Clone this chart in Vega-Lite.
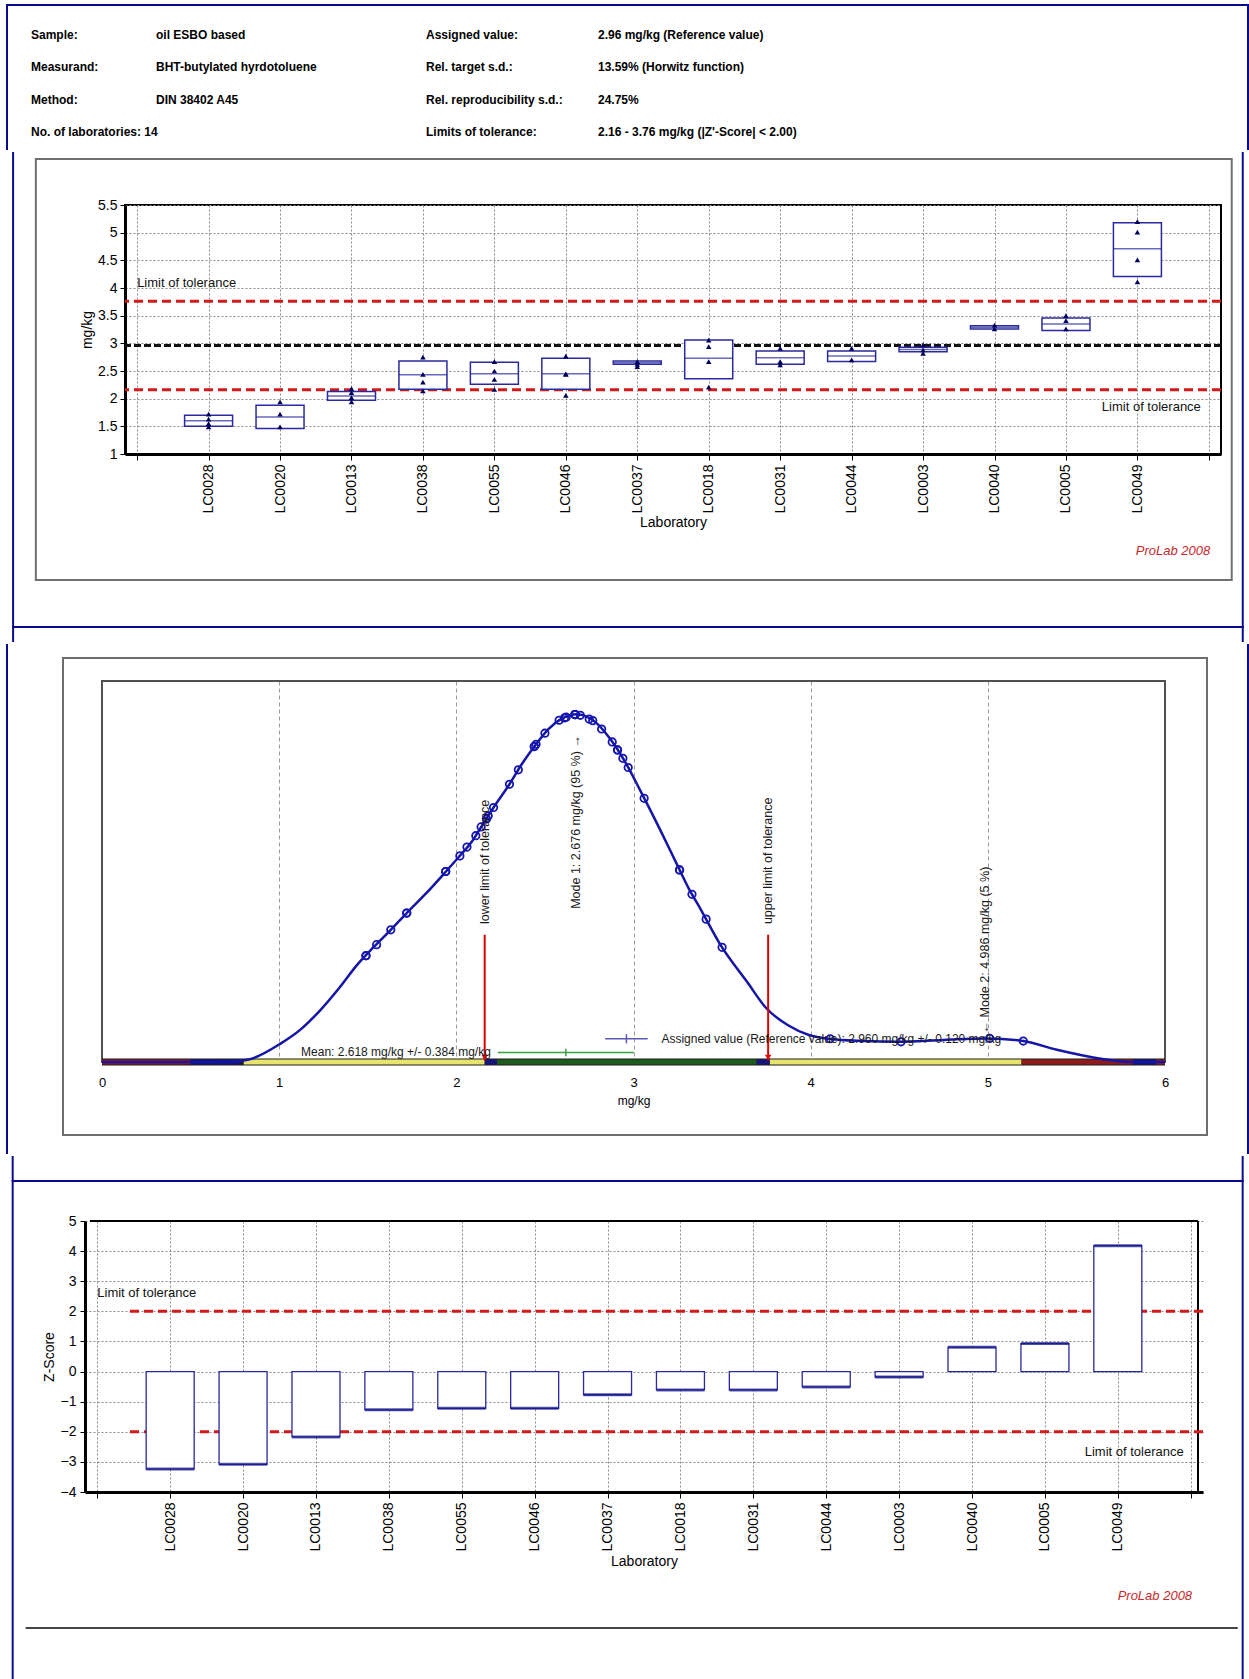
{
  "$schema": "https://vega.github.io/schema/vega-lite/v6.json",
  "padding": 0,
  "background": "white",
  "columns": 1,
  "align": "none",
  "bounds": "full",
  "spacing": 0,
  "datasets": {
    "header": [
      {"row": 0, "col": 0, "text": "Sample:"},
      {"row": 0, "col": 1, "text": "oil ESBO based"},
      {"row": 0, "col": 2, "text": "Assigned value:"},
      {"row": 0, "col": 3, "text": "2.96 mg/kg (Reference value)"},
      {"row": 1, "col": 0, "text": "Measurand:"},
      {"row": 1, "col": 1, "text": "BHT-butylated hyrdotoluene"},
      {"row": 1, "col": 2, "text": "Rel. target s.d.:"},
      {"row": 1, "col": 3, "text": "13.59% (Horwitz function)"},
      {"row": 2, "col": 0, "text": "Method:"},
      {"row": 2, "col": 1, "text": "DIN 38402 A45"},
      {"row": 2, "col": 2, "text": "Rel. reproducibility s.d.:"},
      {"row": 2, "col": 3, "text": "24.75%"},
      {"row": 3, "col": 0, "text": "No. of laboratories: 14"},
      {"row": 3, "col": 2, "text": "Limits of tolerance:"},
      {"row": 3, "col": 3, "text": "2.16 - 3.76 mg/kg   (|Z'-Score| < 2.00)"}
    ],
    "labs": [
      {"lab": "LC0028", "rank": 1, "lo": 1.50, "med": 1.60, "hi": 1.70, "z": -3.24},
      {"lab": "LC0020", "rank": 2, "lo": 1.46, "med": 1.67, "hi": 1.88, "z": -3.08},
      {"lab": "LC0013", "rank": 3, "lo": 1.97, "med": 2.05, "hi": 2.13, "z": -2.17},
      {"lab": "LC0038", "rank": 4, "lo": 2.17, "med": 2.43, "hi": 2.68, "z": -1.27},
      {"lab": "LC0055", "rank": 5, "lo": 2.26, "med": 2.45, "hi": 2.66, "z": -1.22},
      {"lab": "LC0046", "rank": 6, "lo": 2.17, "med": 2.45, "hi": 2.73, "z": -1.22},
      {"lab": "LC0037", "rank": 7, "lo": 2.62, "med": 2.65, "hi": 2.68, "z": -0.77},
      {"lab": "LC0018", "rank": 8, "lo": 2.36, "med": 2.73, "hi": 3.06, "z": -0.61},
      {"lab": "LC0031", "rank": 9, "lo": 2.62, "med": 2.74, "hi": 2.86, "z": -0.61},
      {"lab": "LC0044", "rank": 10, "lo": 2.67, "med": 2.77, "hi": 2.86, "z": -0.51},
      {"lab": "LC0003", "rank": 11, "lo": 2.85, "med": 2.89, "hi": 2.93, "z": -0.18},
      {"lab": "LC0040", "rank": 12, "lo": 3.26, "med": 3.29, "hi": 3.32, "z": 0.81},
      {"lab": "LC0005", "rank": 13, "lo": 3.23, "med": 3.35, "hi": 3.46, "z": 0.93},
      {"lab": "LC0049", "rank": 14, "lo": 4.21, "med": 4.71, "hi": 5.18, "z": 4.18}
    ],
    "results": [
      {"lab": "LC0028", "rank": 1, "value": 1.72, "density": 0.391},
      {"lab": "LC0028", "rank": 1, "value": 1.63, "density": 0.347},
      {"lab": "LC0028", "rank": 1, "value": 1.55, "density": 0.308},
      {"lab": "LC0028", "rank": 1, "value": 1.49, "density": 0.279},
      {"lab": "LC0020", "rank": 2, "value": 1.94, "density": 0.500},
      {"lab": "LC0020", "rank": 2, "value": 1.72, "density": 0.391},
      {"lab": "LC0020", "rank": 2, "value": 1.49, "density": 0.279},
      {"lab": "LC0013", "rank": 3, "value": 2.18, "density": 0.646},
      {"lab": "LC0013", "rank": 3, "value": 2.11, "density": 0.594},
      {"lab": "LC0013", "rank": 3, "value": 2.02, "density": 0.541},
      {"lab": "LC0013", "rank": 3, "value": 1.94, "density": 0.500},
      {"lab": "LC0038", "rank": 4, "value": 2.75, "density": 0.900},
      {"lab": "LC0038", "rank": 4, "value": 2.44, "density": 0.828},
      {"lab": "LC0038", "rank": 4, "value": 2.30, "density": 0.729},
      {"lab": "LC0038", "rank": 4, "value": 2.14, "density": 0.617},
      {"lab": "LC0055", "rank": 5, "value": 2.67, "density": 0.912},
      {"lab": "LC0055", "rank": 5, "value": 2.50, "density": 0.863},
      {"lab": "LC0055", "rank": 5, "value": 2.35, "density": 0.767},
      {"lab": "LC0055", "rank": 5, "value": 2.17, "density": 0.638},
      {"lab": "LC0046", "rank": 6, "value": 2.77, "density": 0.896},
      {"lab": "LC0046", "rank": 6, "value": 2.45, "density": 0.834},
      {"lab": "LC0046", "rank": 6, "value": 2.44, "density": 0.828},
      {"lab": "LC0046", "rank": 6, "value": 2.06, "density": 0.564},
      {"lab": "LC0037", "rank": 7, "value": 2.67, "density": 0.912},
      {"lab": "LC0037", "rank": 7, "value": 2.62, "density": 0.905},
      {"lab": "LC0037", "rank": 7, "value": 2.58, "density": 0.897},
      {"lab": "LC0018", "rank": 8, "value": 3.06, "density": 0.692},
      {"lab": "LC0018", "rank": 8, "value": 2.94, "density": 0.797},
      {"lab": "LC0018", "rank": 8, "value": 2.67, "density": 0.912},
      {"lab": "LC0018", "rank": 8, "value": 2.21, "density": 0.668},
      {"lab": "LC0031", "rank": 9, "value": 2.91, "density": 0.819},
      {"lab": "LC0031", "rank": 9, "value": 2.67, "density": 0.912},
      {"lab": "LC0031", "rank": 9, "value": 2.61, "density": 0.903},
      {"lab": "LC0044", "rank": 10, "value": 2.91, "density": 0.819},
      {"lab": "LC0044", "rank": 10, "value": 2.70, "density": 0.910},
      {"lab": "LC0003", "rank": 11, "value": 2.97, "density": 0.773},
      {"lab": "LC0003", "rank": 11, "value": 2.88, "density": 0.840},
      {"lab": "LC0003", "rank": 11, "value": 2.82, "density": 0.874},
      {"lab": "LC0040", "rank": 12, "value": 3.33, "density": 0.440},
      {"lab": "LC0040", "rank": 12, "value": 3.26, "density": 0.504},
      {"lab": "LC0005", "rank": 13, "value": 3.50, "density": 0.301},
      {"lab": "LC0005", "rank": 13, "value": 3.41, "density": 0.375},
      {"lab": "LC0005", "rank": 13, "value": 3.26, "density": 0.504},
      {"lab": "LC0049", "rank": 14, "value": 5.20, "density": 0.055},
      {"lab": "LC0049", "rank": 14, "value": 5.01, "density": 0.062},
      {"lab": "LC0049", "rank": 14, "value": 4.51, "density": 0.053},
      {"lab": "LC0049", "rank": 14, "value": 4.11, "density": 0.061}
    ],
    "reference": [
      {"assigned": 2.96, "assigned_lo": 2.84, "assigned_hi": 3.08, "lower": 2.16, "upper": 3.76, "mean": 2.618, "mean_lo": 2.234, "mean_hi": 3.002}
    ],
    "zlimits": [{"z_upper": 2, "z_lower": -2}],
    "modes": [
      {"mode1": 2.676, "mode1_label": "Mode 1: 2.676 mg/kg (95 %) \u2192", "mode2": 4.986, "mode2_label": "\u2190 Mode 2: 4.986 mg/kg (5 %)"}
    ],
    "curve": [
      {"value": 0.0, "density": 0.0},
      {"value": 0.5, "density": 0.0},
      {"value": 0.73, "density": 0.001},
      {"value": 0.84, "density": 0.008},
      {"value": 1.01, "density": 0.049},
      {"value": 1.12, "density": 0.085},
      {"value": 1.23, "density": 0.135},
      {"value": 1.34, "density": 0.195},
      {"value": 1.44, "density": 0.255},
      {"value": 1.53, "density": 0.300},
      {"value": 1.63, "density": 0.347},
      {"value": 1.72, "density": 0.391},
      {"value": 1.83, "density": 0.443},
      {"value": 1.93, "density": 0.494},
      {"value": 2.01, "density": 0.536},
      {"value": 2.09, "density": 0.580},
      {"value": 2.15, "density": 0.624},
      {"value": 2.21, "density": 0.668},
      {"value": 2.30, "density": 0.729},
      {"value": 2.37, "density": 0.782},
      {"value": 2.45, "density": 0.834},
      {"value": 2.52, "density": 0.874},
      {"value": 2.59, "density": 0.900},
      {"value": 2.68, "density": 0.913},
      {"value": 2.78, "density": 0.894},
      {"value": 2.87, "density": 0.847},
      {"value": 2.95, "density": 0.790},
      {"value": 3.04, "density": 0.711},
      {"value": 3.15, "density": 0.610},
      {"value": 3.25, "density": 0.514},
      {"value": 3.31, "density": 0.457},
      {"value": 3.38, "density": 0.400},
      {"value": 3.49, "density": 0.308},
      {"value": 3.64, "density": 0.211},
      {"value": 3.75, "density": 0.141},
      {"value": 3.87, "density": 0.097},
      {"value": 3.99, "density": 0.071},
      {"value": 4.10, "density": 0.061},
      {"value": 4.30, "density": 0.055},
      {"value": 4.49, "density": 0.053},
      {"value": 4.75, "density": 0.058},
      {"value": 4.99, "density": 0.062},
      {"value": 5.20, "density": 0.055},
      {"value": 5.39, "density": 0.032},
      {"value": 5.62, "density": 0.010},
      {"value": 5.81, "density": 0.0},
      {"value": 6.0, "density": 0.0}
    ],
    "bands": [
      {"from": 0.0, "to": 0.5, "zone": "unsatisfactory"},
      {"from": 0.5, "to": 0.78, "zone": "edge"},
      {"from": 0.8, "to": 2.16, "zone": "questionable"},
      {"from": 2.16, "to": 2.23, "zone": "edge"},
      {"from": 2.23, "to": 3.695, "zone": "satisfactory"},
      {"from": 3.695, "to": 3.77, "zone": "edge"},
      {"from": 3.77, "to": 5.19, "zone": "questionable"},
      {"from": 5.19, "to": 5.82, "zone": "unsatisfactory"},
      {"from": 5.82, "to": 5.95, "zone": "edge"},
      {"from": 5.95, "to": 6.0, "zone": "unsatisfactory"}
    ]
  },
  "concat": [
    {
      "width": 1000,
      "height": 150,
      "layer": [
        {
          "data": {"name": "reference"},
          "mark": {"type": "rect", "color": "white", "clip": false},
          "encoding": {
            "x": {"datum": -0.24, "type": "quantitative", "scale": {"domain": [0, 1, 2, 3], "range": [-94, 31, 301, 473]}, "axis": null},
            "x2": {"datum": 6.7907},
            "y": {"datum": -1.0615, "type": "quantitative", "scale": {"domain": [0, 3], "range": [34.5, 132]}, "axis": null},
            "y2": {"datum": 3.5538}
          }
        },
        {
          "data": {"name": "header"},
          "mark": {"type": "text", "align": "left", "baseline": "middle", "fontWeight": "bold", "fontSize": 12, "font": "Liberation Sans", "color": "#000"},
          "encoding": {
            "x": {"field": "col", "type": "quantitative", "axis": null},
            "y": {"field": "row", "type": "quantitative", "axis": null},
            "text": {"field": "text"}
          }
        },
        {
          "data": {"name": "reference"},
          "mark": {"type": "rect", "color": "#0a0a8c", "clip": false},
          "encoding": {
            "x": {"datum": -0.2, "type": "quantitative", "axis": null},
            "x2": {"datum": 6.7849},
            "y": {"datum": -0.9385, "type": "quantitative", "axis": null},
            "y2": {"datum": -0.8769}
          }
        },
        {
          "data": {"name": "reference"},
          "mark": {"type": "rect", "color": "#0a0a8c", "clip": false},
          "encoding": {
            "x": {"datum": -0.2, "type": "quantitative", "axis": null},
            "x2": {"datum": -0.184},
            "y": {"datum": -0.9385, "type": "quantitative", "axis": null},
            "y2": {"datum": 3.5538}
          }
        },
        {
          "data": {"name": "reference"},
          "mark": {"type": "rect", "color": "#0a0a8c", "clip": false},
          "encoding": {
            "x": {"datum": 6.7733, "type": "quantitative", "axis": null},
            "x2": {"datum": 6.7849},
            "y": {"datum": -0.9385, "type": "quantitative", "axis": null},
            "y2": {"datum": 3.5538}
          }
        }
      ]
    },
    {
      "width": 1096,
      "height": 249,
      "view": {"stroke": "#000", "strokeWidth": 2},
      "layer": [
        {
          "data": {"name": "reference"},
          "mark": {"type": "rect", "fill": "#fff", "fillOpacity": 0, "strokeOpacity": 0, "clip": false},
          "encoding": {
            "x": {
              "datum": -1.82, "type": "quantitative",
              "scale": {"domain": [-0.1, 15.1], "nice": false, "zero": false},
              "axis": {
                "values": [0, 1, 2, 3, 4, 5, 6, 7, 8, 9, 10, 11, 12, 13, 14, 15],
                "labelExpr": "['', 'LC0028', 'LC0020', 'LC0013', 'LC0038', 'LC0055', 'LC0046', 'LC0037', 'LC0018', 'LC0031', 'LC0044', 'LC0003', 'LC0040', 'LC0005', 'LC0049', ''][datum.value]",
                "labelAngle": -90, "labelFontSize": 14, "labelPadding": 4, "labelOverlap": false, "labelFlush": false,
                "tickSize": 6, "tickColor": "#000", "domainColor": "#000", "domainWidth": 3,
                "grid": true, "gridColor": "#8a8a8a", "gridDash": [2, 2],
                "title": "Laboratory", "titleFontSize": 14, "titlePadding": 2
              }
            },
            "x2": {"datum": 15.503},
            "y": {
              "datum": 6.458, "type": "quantitative",
              "scale": {"domain": [1, 5.5], "nice": false, "zero": false},
              "axis": {
                "values": [1, 1.5, 2, 2.5, 3, 3.5, 4, 4.5, 5, 5.5], "format": "~g", "tickCount": 10,
                "labelFontSize": 14, "labelPadding": 3, "labelOverlap": false, "tickSize": 5, "tickColor": "#000",
                "domainColor": "#000", "domainWidth": 3,
                "grid": true, "gridColor": "#8a8a8a", "gridDash": [2, 2],
                "title": "mg/kg", "titleFontSize": 14, "titlePadding": 3
              }
            },
            "y2": {"datum": -2.398}
          }
        },
        {
          "data": {"name": "reference"},
          "mark": {"type": "rect", "color": "#0a0a8c", "clip": false},
          "encoding": {
            "x": {"datum": -1.7502, "type": "quantitative"},
            "x2": {"datum": -1.7225},
            "y": {"datum": 6.458, "type": "quantitative"},
            "y2": {"datum": -2.398}
          }
        },
        {
          "data": {"name": "reference"},
          "mark": {"type": "rect", "color": "#0a0a8c", "clip": false},
          "encoding": {
            "x": {"datum": 15.4608, "type": "quantitative"},
            "x2": {"datum": 15.4885},
            "y": {"datum": 6.458, "type": "quantitative"},
            "y2": {"datum": -2.398}
          }
        },
        {
          "data": {"name": "reference"},
          "mark": {"type": "rect", "color": "#0a0a8c", "clip": false},
          "encoding": {
            "x": {"datum": -1.7502, "type": "quantitative"},
            "x2": {"datum": 15.4885},
            "y": {"datum": -2.1085, "type": "quantitative"},
            "y2": {"datum": -2.1446}
          }
        },
        {
          "data": {"name": "reference"},
          "mark": {"type": "rect", "filled": false, "color": "#707070", "strokeWidth": 2, "clip": false},
          "encoding": {
            "x": {"datum": -1.418, "type": "quantitative"},
            "x2": {"datum": 15.32},
            "y": {"datum": 6.331, "type": "quantitative"},
            "y2": {"datum": -1.277}
          }
        },
        {
          "data": {"name": "reference"},
          "mark": {"type": "rule", "color": "#d21a1a", "strokeWidth": 3, "strokeDash": [9, 5]},
          "encoding": {"y": {"field": "upper", "type": "quantitative"}}
        },
        {
          "data": {"name": "reference"},
          "mark": {"type": "rule", "color": "#d21a1a", "strokeWidth": 3, "strokeDash": [9, 5]},
          "encoding": {"y": {"field": "lower", "type": "quantitative"}}
        },
        {
          "data": {"name": "reference"},
          "mark": {"type": "rule", "color": "#111", "strokeWidth": 3, "strokeDash": [7, 3]},
          "encoding": {"y": {"field": "assigned", "type": "quantitative"}}
        },
        {
          "data": {"name": "labs"},
          "mark": {"type": "bar", "size": 48, "fill": "white", "stroke": "#2a2aa0", "strokeWidth": 1.5},
          "encoding": {
            "x": {"field": "rank", "type": "quantitative"},
            "y": {"field": "lo", "type": "quantitative"},
            "y2": {"field": "hi"}
          }
        },
        {
          "data": {"name": "labs"},
          "mark": {"type": "tick", "orient": "horizontal", "size": 48, "thickness": 1.5, "color": "#2a2aa0"},
          "encoding": {
            "x": {"field": "rank", "type": "quantitative"},
            "y": {"field": "med", "type": "quantitative"}
          }
        },
        {
          "data": {"name": "results"},
          "mark": {"type": "point", "shape": "triangle-up", "filled": true, "color": "#00005a", "size": 30, "opacity": 1},
          "encoding": {
            "x": {"field": "rank", "type": "quantitative"},
            "y": {"field": "value", "type": "quantitative"}
          }
        },
        {
          "data": {"name": "reference"},
          "mark": {"type": "text", "align": "left", "baseline": "middle", "fontSize": 13, "dy": -18, "color": "#111"},
          "encoding": {
            "x": {"datum": 0, "type": "quantitative"},
            "y": {"field": "upper", "type": "quantitative"},
            "text": {"value": "Limit of tolerance"}
          }
        },
        {
          "data": {"name": "reference"},
          "mark": {"type": "text", "align": "right", "baseline": "middle", "fontSize": 13, "dy": 17, "dx": -8, "color": "#111"},
          "encoding": {
            "x": {"datum": 15, "type": "quantitative"},
            "y": {"field": "lower", "type": "quantitative"},
            "text": {"value": "Limit of tolerance"}
          }
        },
        {
          "data": {"name": "reference"},
          "mark": {"type": "text", "align": "right", "baseline": "middle", "fontSize": 13, "fontStyle": "italic", "color": "#c8282c", "clip": false},
          "encoding": {
            "x": {"datum": 15.02, "type": "quantitative"},
            "y": {"datum": -0.753, "type": "quantitative"},
            "text": {"value": "ProLab 2008"}
          }
        }
      ]
    },
    {
      "width": 1040,
      "height": 381,
      "layer": [
        {
          "data": {"name": "reference"},
          "mark": {"type": "rect", "fill": "#fff", "fillOpacity": 0, "strokeOpacity": 0, "clip": false},
          "encoding": {
            "x": {
              "datum": -0.5701, "type": "quantitative",
              "scale": {"domain": [0, 6], "range": [-23, 1040], "nice": false, "zero": false},
              "axis": {
                "values": [0, 1, 2, 3, 4, 5, 6], "format": "d",
                "domain": false, "ticks": false, "labelPadding": 14, "labelFontSize": 13, "labelFlush": false,
                "grid": true, "gridColor": "#9a9a9a", "gridDash": [4, 3],
                "title": "mg/kg", "titleFontSize": 12, "titlePadding": 6
              }
            },
            "x2": {"datum": 6.4797},
            "y": {"datum": 1.0971, "type": "quantitative", "scale": {"domain": [0, 1], "nice": false, "zero": false}, "axis": null},
            "y2": {"datum": -0.2415}
          }
        },
        {
          "data": {"name": "reference"},
          "mark": {"type": "rect", "color": "#0a0a8c", "clip": false},
          "encoding": {
            "x": {"datum": -0.5419, "type": "quantitative"},
            "x2": {"datum": -0.5306},
            "y": {"datum": 1.0971, "type": "quantitative", "axis": null},
            "y2": {"datum": -0.2415}
          }
        },
        {
          "data": {"name": "reference"},
          "mark": {"type": "rect", "color": "#0a0a8c", "clip": false},
          "encoding": {
            "x": {"datum": 6.4628, "type": "quantitative"},
            "x2": {"datum": 6.474},
            "y": {"datum": 1.0971, "type": "quantitative", "axis": null},
            "y2": {"datum": -0.2415}
          }
        },
        {
          "data": {"name": "reference"},
          "mark": {"type": "rect", "filled": false, "color": "#6e6e6e", "strokeWidth": 2, "clip": false},
          "encoding": {
            "x": {"datum": -0.2201, "type": "quantitative"},
            "x2": {"datum": 6.237},
            "y": {"datum": 1.0604, "type": "quantitative", "axis": null},
            "y2": {"datum": -0.1916}
          }
        },
        {
          "data": {"name": "reference"},
          "mark": {"type": "rect", "filled": false, "color": "#505050", "strokeWidth": 2, "clip": false},
          "encoding": {
            "x": {"datum": 0, "type": "quantitative"},
            "x2": {"datum": 6},
            "y": {"datum": 1, "type": "quantitative", "axis": null},
            "y2": {"datum": 0}
          }
        },
        {
          "data": {"name": "reference"},
          "mark": {"type": "rule", "color": "#1e1e1e", "strokeWidth": 7, "clip": false},
          "encoding": {
            "x": {"datum": 0, "type": "quantitative"},
            "x2": {"datum": 6},
            "y": {"datum": 0, "type": "quantitative", "axis": null}
          }
        },
        {
          "data": {"name": "bands"},
          "mark": {"type": "rule", "strokeWidth": 5, "clip": false},
          "encoding": {
            "x": {"field": "from", "type": "quantitative"},
            "x2": {"field": "to"},
            "y": {"datum": 0, "type": "quantitative", "axis": null},
            "color": {
              "field": "zone", "type": "nominal",
              "scale": {"domain": ["unsatisfactory", "edge", "questionable", "satisfactory"], "range": ["#8e1b1b", "#15157a", "#e8e46c", "#1d5a1d"]},
              "legend": null
            }
          }
        },
        {
          "data": {"name": "curve"},
          "mark": {"type": "line", "color": "#1515a8", "strokeWidth": 2.5, "interpolate": "monotone"},
          "encoding": {
            "x": {"field": "value", "type": "quantitative"},
            "y": {"field": "density", "type": "quantitative", "axis": null}
          }
        },
        {
          "data": {"name": "results"},
          "mark": {"type": "point", "shape": "circle", "filled": false, "color": "#1515b0", "size": 55, "strokeWidth": 1.8, "opacity": 1},
          "encoding": {
            "x": {"field": "value", "type": "quantitative"},
            "y": {"field": "density", "type": "quantitative", "axis": null}
          }
        },
        {
          "data": {"name": "reference"},
          "mark": {"type": "rule", "color": "#e00000", "strokeWidth": 2},
          "encoding": {
            "x": {"field": "lower", "type": "quantitative"},
            "y": {"datum": 0.334, "type": "quantitative", "axis": null},
            "y2": {"datum": 0.004}
          }
        },
        {
          "data": {"name": "reference"},
          "mark": {"type": "rule", "color": "#e00000", "strokeWidth": 2},
          "encoding": {
            "x": {"field": "upper", "type": "quantitative"},
            "y": {"datum": 0.334, "type": "quantitative", "axis": null},
            "y2": {"datum": 0.004}
          }
        },
        {
          "data": {"name": "reference"},
          "mark": {"type": "point", "shape": "triangle-down", "filled": true, "color": "#e00000", "size": 40, "opacity": 1},
          "encoding": {
            "x": {"field": "lower", "type": "quantitative"},
            "y": {"datum": 0.012, "type": "quantitative", "axis": null}
          }
        },
        {
          "data": {"name": "reference"},
          "mark": {"type": "point", "shape": "triangle-down", "filled": true, "color": "#e00000", "size": 40, "opacity": 1},
          "encoding": {
            "x": {"field": "upper", "type": "quantitative"},
            "y": {"datum": 0.012, "type": "quantitative", "axis": null}
          }
        },
        {
          "data": {"name": "reference"},
          "mark": {"type": "text", "angle": 270, "align": "left", "baseline": "middle", "fontSize": 12.5, "color": "#1a1a1a"},
          "encoding": {
            "x": {"field": "lower", "type": "quantitative"},
            "y": {"datum": 0.362, "type": "quantitative", "axis": null},
            "text": {"value": "lower limit of tolerance"}
          }
        },
        {
          "data": {"name": "reference"},
          "mark": {"type": "text", "angle": 270, "align": "left", "baseline": "middle", "fontSize": 12.5, "color": "#1a1a1a"},
          "encoding": {
            "x": {"field": "upper", "type": "quantitative"},
            "y": {"datum": 0.362, "type": "quantitative", "axis": null},
            "text": {"value": "upper limit of tolerance"}
          }
        },
        {
          "data": {"name": "modes"},
          "mark": {"type": "text", "angle": 270, "align": "left", "baseline": "middle", "fontSize": 12.5, "color": "#1a1a1a"},
          "encoding": {
            "x": {"field": "mode1", "type": "quantitative"},
            "y": {"datum": 0.402, "type": "quantitative", "axis": null},
            "text": {"field": "mode1_label"}
          }
        },
        {
          "data": {"name": "modes"},
          "mark": {"type": "text", "angle": 270, "align": "left", "baseline": "middle", "fontSize": 12.5, "color": "#1a1a1a"},
          "encoding": {
            "x": {"field": "mode2", "type": "quantitative"},
            "y": {"datum": 0.075, "type": "quantitative", "axis": null},
            "text": {"field": "mode2_label"}
          }
        },
        {
          "data": {"name": "reference"},
          "mark": {"type": "rule", "color": "#3c9e3c", "strokeWidth": 1.5},
          "encoding": {
            "x": {"field": "mean_lo", "type": "quantitative"},
            "x2": {"field": "mean_hi"},
            "y": {"datum": 0.025, "type": "quantitative", "axis": null}
          }
        },
        {
          "data": {"name": "reference"},
          "mark": {"type": "rule", "color": "#3c9e3c", "strokeWidth": 1.5},
          "encoding": {
            "x": {"field": "mean", "type": "quantitative"},
            "y": {"datum": 0.015, "type": "quantitative", "axis": null},
            "y2": {"datum": 0.035}
          }
        },
        {
          "data": {"name": "reference"},
          "mark": {"type": "text", "align": "right", "baseline": "middle", "fontSize": 12, "dx": -75, "color": "#1a1a1a"},
          "encoding": {
            "x": {"field": "mean", "type": "quantitative"},
            "y": {"datum": 0.025, "type": "quantitative", "axis": null},
            "text": {"value": "Mean: 2.618 mg/kg +/- 0.384 mg/kg"}
          }
        },
        {
          "data": {"name": "reference"},
          "mark": {"type": "rule", "color": "#5a5ab4", "strokeWidth": 1.5},
          "encoding": {
            "x": {"field": "assigned_lo", "type": "quantitative"},
            "x2": {"field": "assigned_hi"},
            "y": {"datum": 0.061, "type": "quantitative", "axis": null}
          }
        },
        {
          "data": {"name": "reference"},
          "mark": {"type": "rule", "color": "#5a5ab4", "strokeWidth": 1.5},
          "encoding": {
            "x": {"field": "assigned", "type": "quantitative"},
            "y": {"datum": 0.049, "type": "quantitative", "axis": null},
            "y2": {"datum": 0.073}
          }
        },
        {
          "data": {"name": "reference"},
          "mark": {"type": "text", "align": "left", "baseline": "middle", "fontSize": 12, "dx": 35, "color": "#1a1a1a"},
          "encoding": {
            "x": {"field": "assigned", "type": "quantitative"},
            "y": {"datum": 0.061, "type": "quantitative", "axis": null},
            "text": {"value": "Assigned value (Reference value): 2.960 mg/kg +/- 0.120 mg/kg"}
          }
        }
      ]
    },
    {
      "width": 1078,
      "height": 271,
      "layer": [
        {
          "data": {"name": "reference"},
          "mark": {"type": "rect", "fill": "#fff", "fillOpacity": 0, "strokeOpacity": 0, "clip": false},
          "encoding": {
            "x": {
              "datum": -1.2422, "type": "quantitative",
              "scale": {"domain": [-0.1, 15.1], "range": [-40, 1078], "nice": false, "zero": false},
              "axis": {
                "values": [0, 1, 2, 3, 4, 5, 6, 7, 8, 9, 10, 11, 12, 13, 14, 15],
                "labelExpr": "['', 'LC0028', 'LC0020', 'LC0013', 'LC0038', 'LC0055', 'LC0046', 'LC0037', 'LC0018', 'LC0031', 'LC0044', 'LC0003', 'LC0040', 'LC0005', 'LC0049', ''][datum.value]",
                "labelAngle": -90, "labelFontSize": 14, "labelPadding": 4, "labelOverlap": false, "labelFlush": false,
                "tickSize": 6, "tickColor": "#000", "domainColor": "#000", "domainWidth": 3,
                "grid": true, "gridColor": "#8a8a8a", "gridDash": [2, 2],
                "title": "Laboratory", "titleFontSize": 14, "titlePadding": 3
              }
            },
            "x2": {"datum": 15.74},
            "y": {
              "datum": 7.1587, "type": "quantitative",
              "scale": {"domain": [-4, 5], "nice": false, "zero": false},
              "axis": {
                "values": [-4, -3, -2, -1, 0, 1, 2, 3, 4, 5], "format": "d", "tickCount": 10, "offset": 40,
                "labelFontSize": 14, "labelPadding": 4, "labelOverlap": false, "tickSize": 5, "tickColor": "#000",
                "domainColor": "#000", "domainWidth": 3,
                "grid": true, "gridColor": "#8a8a8a", "gridDash": [2, 2],
                "title": "Z-Score", "titleFontSize": 14, "titlePadding": 4
              }
            },
            "y2": {"datum": -10.41}
          }
        },
        {
          "data": {"name": "reference"},
          "mark": {"type": "rect", "color": "#0a0a8c", "clip": false},
          "encoding": {
            "x": {"datum": -1.1742, "type": "quantitative"},
            "x2": {"datum": -1.147},
            "y": {"datum": 7.1587, "type": "quantitative"},
            "y2": {"datum": -10.41}
          }
        },
        {
          "data": {"name": "reference"},
          "mark": {"type": "rect", "color": "#0a0a8c", "clip": false},
          "encoding": {
            "x": {"datum": 15.6992, "type": "quantitative"},
            "x2": {"datum": 15.7264},
            "y": {"datum": 7.1587, "type": "quantitative"},
            "y2": {"datum": -10.41}
          }
        },
        {
          "data": {"name": "reference"},
          "mark": {"type": "rect", "color": "#0a0a8c", "clip": false},
          "encoding": {
            "x": {"datum": -1.1742, "type": "quantitative"},
            "x2": {"datum": 15.7264},
            "y": {"datum": 6.3616, "type": "quantitative"},
            "y2": {"datum": 6.2952}
          }
        },
        {
          "data": {"name": "reference"},
          "mark": {"type": "rect", "color": "#454545", "clip": false},
          "encoding": {
            "x": {"datum": -0.9838, "type": "quantitative"},
            "x2": {"datum": 15.6449},
            "y": {"datum": -8.4834, "type": "quantitative"},
            "y2": {"datum": -8.5498}
          }
        },
        {
          "data": {"name": "reference"},
          "mark": {"type": "rule", "color": "#000", "strokeWidth": 2, "clip": false},
          "encoding": {
            "x": {"datum": -0.1, "type": "quantitative"},
            "x2": {"datum": 15.1},
            "y": {"datum": 5, "type": "quantitative"}
          }
        },
        {
          "data": {"name": "reference"},
          "mark": {"type": "rule", "color": "#000", "strokeWidth": 2, "clip": false},
          "encoding": {
            "x": {"datum": 15.1, "type": "quantitative"},
            "y": {"datum": -4, "type": "quantitative"},
            "y2": {"datum": 5}
          }
        },
        {
          "data": {"name": "zlimits"},
          "mark": {"type": "rule", "color": "#d21a1a", "strokeWidth": 3, "strokeDash": [9, 5]},
          "encoding": {"y": {"field": "z_upper", "type": "quantitative"}}
        },
        {
          "data": {"name": "zlimits"},
          "mark": {"type": "rule", "color": "#d21a1a", "strokeWidth": 3, "strokeDash": [9, 5]},
          "encoding": {"y": {"field": "z_lower", "type": "quantitative"}}
        },
        {
          "data": {"name": "labs"},
          "mark": {"type": "bar", "size": 48, "fill": "white", "stroke": "#2a2aa0", "strokeWidth": 1.3},
          "encoding": {
            "x": {"field": "rank", "type": "quantitative"},
            "y": {"field": "z", "type": "quantitative"},
            "y2": {"datum": 0}
          }
        },
        {
          "data": {"name": "labs"},
          "mark": {"type": "tick", "orient": "horizontal", "size": 48, "thickness": 3, "color": "#14148c"},
          "encoding": {
            "x": {"field": "rank", "type": "quantitative"},
            "y": {"field": "z", "type": "quantitative"}
          }
        },
        {
          "data": {"name": "zlimits"},
          "mark": {"type": "text", "align": "left", "baseline": "middle", "fontSize": 13, "dy": -18, "color": "#111"},
          "encoding": {
            "x": {"datum": 0, "type": "quantitative"},
            "y": {"field": "z_upper", "type": "quantitative"},
            "text": {"value": "Limit of tolerance"}
          }
        },
        {
          "data": {"name": "zlimits"},
          "mark": {"type": "text", "align": "right", "baseline": "middle", "fontSize": 13, "dy": 20, "dx": -7, "color": "#111"},
          "encoding": {
            "x": {"datum": 15, "type": "quantitative"},
            "y": {"field": "z_lower", "type": "quantitative"},
            "text": {"value": "Limit of tolerance"}
          }
        },
        {
          "data": {"name": "reference"},
          "mark": {"type": "text", "align": "right", "baseline": "middle", "fontSize": 13, "fontStyle": "italic", "color": "#c8282c", "clip": false},
          "encoding": {
            "x": {"datum": 15.019, "type": "quantitative"},
            "y": {"datum": -7.4538, "type": "quantitative"},
            "text": {"value": "ProLab 2008"}
          }
        }
      ]
    }
  ],
  "config": {
    "view": {"stroke": null},
    "font": "Liberation Sans",
    "axis": {"labelFont": "Liberation Sans", "titleFont": "Liberation Sans", "labelColor": "#000", "titleColor": "#000", "titleFontWeight": "normal"}
  }
}
